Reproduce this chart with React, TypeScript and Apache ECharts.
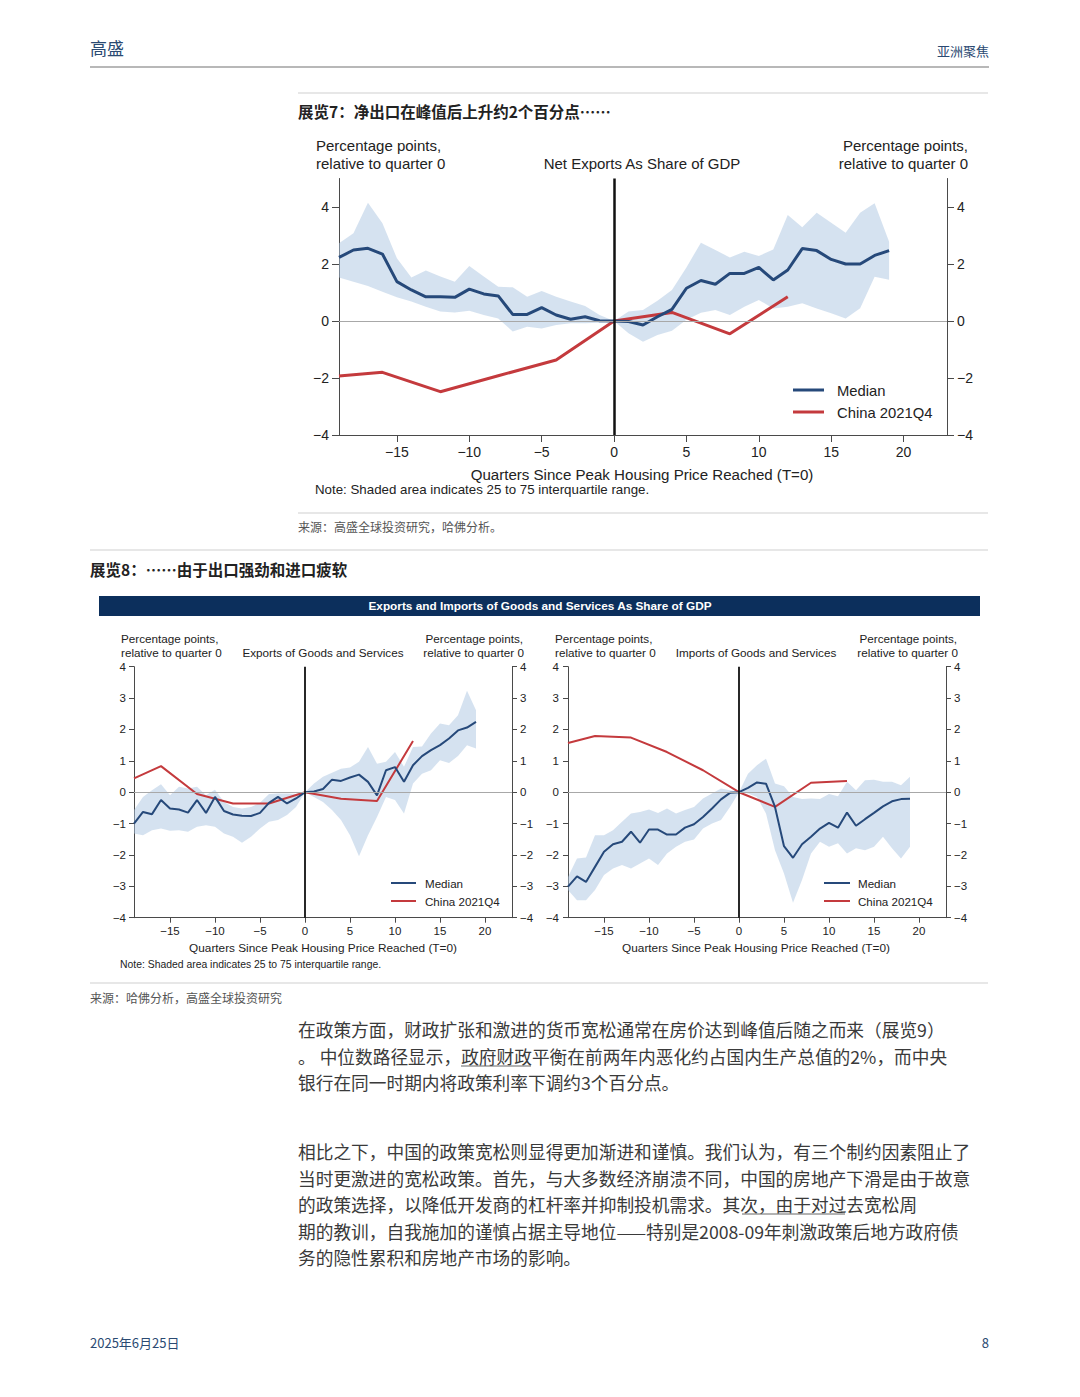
import React, { useEffect, useRef } from "react";
import * as echarts from "echarts";

// ---------- data ----------
const QUARTERS = [-19, -18, -17, -16, -15, -14, -13, -12, -11, -10, -9, -8, -7, -6, -5, -4, -3, -2, -1, 0, 1, 2, 3, 4, 5, 6, 7, 8, 9, 10, 11, 12, 13, 14, 15, 16, 17, 18, 19];
const CHINA_QUARTERS = [-19, -16, -12, -8, -4, 0, 4, 8, 12];
const X_TICKS = [-15, -10, -5, 0, 5, 10, 15, 20];
const Y_TICKS_TOP = [-4, -2, 0, 2, 4];
const Y_TICKS_BOTTOM = [-4, -3, -2, -1, 0, 1, 2, 3, 4];

// Net exports (Exhibit 7)
const NET_MEDIAN = [2.23, 2.49, 2.55, 2.35, 1.38, 1.09, 0.85, 0.85, 0.83, 1.12, 0.95, 0.88, 0.23, 0.23, 0.47, 0.21, 0.06, 0.15, 0.01, 0, -0.02, -0.14, 0.15, 0.41, 1.15, 1.42, 1.29, 1.67, 1.67, 1.88, 1.44, 1.79, 2.54, 2.47, 2.16, 2.0, 2.0, 2.3, 2.47];
const NET_UPPER = [2.73, 3.08, 4.15, 3.43, 2.2, 1.53, 1.77, 1.56, 1.38, 1.93, 1.56, 1.2, 1.18, 0.85, 1.05, 0.85, 0.68, 0.53, 0.21, 0, 0.33, 0.39, 0.71, 1.09, 1.88, 2.75, 2.49, 2.23, 2.43, 2.28, 2.51, 3.72, 3.29, 3.8, 3.45, 3.1, 3.8, 4.13, 2.78];
const NET_LOWER = [1.53, 1.38, 1.23, 1.03, 0.83, 0.68, 0.5, 0.33, 0.3, 0.36, 0.21, 0.09, -0.37, -0.2, -0.26, -0.14, -0.08, -0.08, -0.06, 0, -0.43, -0.73, -0.49, -0.34, 0.04, 0.29, 0.39, 0.21, 0.5, 0.74, 0.44, 0.5, 0.62, 0.44, 0.27, 0.09, 0.45, 1.55, 1.45];
const NET_CHINA = [-1.93, -1.8, -2.48, -1.92, -1.37, 0, 0.3, -0.45, 0.85];

// Exports (Exhibit 8 left)
const EXP_MEDIAN = [-1.0, -0.63, -0.7, -0.25, -0.52, -0.55, -0.65, -0.25, -0.66, -0.15, -0.6, -0.71, -0.75, -0.76, -0.66, -0.34, -0.15, -0.36, -0.2, 0, 0.02, 0.1, 0.4, 0.36, 0.47, 0.56, 0.33, -0.1, 0.7, 0.8, 0.33, 0.86, 1.15, 1.34, 1.5, 1.71, 1.97, 2.06, 2.24];
const EXP_UPPER = [-0.57, -0.15, 0.06, 0.25, -0.1, 0.17, 0.12, 0.17, -0.1, 0.08, -0.31, -0.47, -0.52, -0.47, -0.34, -0.06, -0.04, -0.04, -0.06, 0, 0.28, 0.49, 0.62, 0.75, 0.79, 0.97, 1.44, 0.91, 0.97, 1.28, 0.81, 1.44, 1.46, 1.87, 2.19, 2.13, 2.45, 3.23, 2.61];
const EXP_LOWER = [-1.32, -1.37, -1.21, -1.16, -1.23, -1.21, -1.26, -1.1, -1.05, -1.1, -1.32, -1.42, -1.61, -1.42, -1.16, -0.94, -0.89, -0.73, -0.47, 0, -0.15, -0.31, -0.57, -0.89, -1.37, -2.04, -1.37, -0.79, -0.15, -0.25, -0.68, 0.28, 0.59, 0.7, 1.02, 0.93, 1.15, 1.5, 1.39];
const EXP_CHINA = [0.44, 0.83, -0.06, -0.36, -0.36, 0, -0.21, -0.28, 1.63];

// Imports (Exhibit 8 right)
const IMP_MEDIAN = [-3.01, -2.68, -2.86, -2.38, -1.9, -1.66, -1.58, -1.26, -1.61, -1.19, -1.19, -1.35, -1.35, -1.13, -1.02, -0.79, -0.52, -0.23, -0.02, 0, 0.14, 0.31, 0.27, -0.47, -1.72, -2.09, -1.66, -1.42, -1.16, -0.98, -1.13, -0.65, -1.07, -0.86, -0.66, -0.45, -0.29, -0.22, -0.21];
const IMP_UPPER = [-2.7, -2.11, -2.08, -1.37, -1.37, -1.21, -0.94, -0.68, -0.63, -0.55, -0.66, -0.52, -0.68, -0.57, -0.47, -0.2, -0.04, 0.12, 0.06, 0, 0.59, 0.86, 1.07, 0.28, 0.19, -0.15, -0.22, -0.2, -0.22, -0.06, -0.13, 0.33, 0.06, 0.38, 0.4, 0.33, 0.33, 0.22, 0.49];
const IMP_LOWER = [-3.12, -3.44, -3.44, -3.12, -2.64, -2.43, -2.32, -2.43, -2.27, -2.11, -2.32, -1.95, -1.74, -1.58, -1.51, -1.16, -1.0, -0.89, -0.47, 0, -0.04, -0.15, -0.68, -1.85, -2.59, -3.52, -2.8, -1.95, -1.58, -1.74, -1.63, -1.95, -1.79, -1.85, -1.74, -1.42, -1.79, -2.11, -1.74];
const IMP_CHINA = [1.57, 1.79, 1.74, 1.28, 0.7, 0, -0.47, 0.3, 0.36];

// ---------- style ----------
const NAVY = "#26497a";
const RED = "#c43a3d";
const BAND = "rgba(172,198,226,0.5)";
const HEAD = "#2b4a72";
const LAT = "'Liberation Sans', Arial, sans-serif";
const CJK = "'Noto Sans CJK SC', sans-serif";

const minus = (v: number) => (v < 0 ? "\u2212" + Math.abs(v) : String(v));
const pairs = (xs: number[], ys: number[]) => xs.map((x, i) => [x, ys[i]]);

type Panel = {
  left: number; top: number; width: number; height: number;
  yMin: number; yMax: number; yTicks: number[];
  fs: number; tick: number; lw: number; vw: number;
  ymL: number; ymR: number; xm: number;
  median: number[]; upper: number[]; lower: number[]; china: number[];
};

const PANELS: Panel[] = [
  { left: 339, top: 178.5, width: 608, height: 256.5, yMin: -4, yMax: 5, yTicks: Y_TICKS_TOP, fs: 14, tick: 7, lw: 3, vw: 2.5, ymL: 10, ymR: 10, xm: 10,
    median: NET_MEDIAN, upper: NET_UPPER, lower: NET_LOWER, china: NET_CHINA },
  { left: 134, top: 666.7, width: 378, height: 251, yMin: -4, yMax: 4, yTicks: Y_TICKS_BOTTOM, fs: 11.5, tick: 5, lw: 2, vw: 1.8, ymL: 8, ymR: 8, xm: 7,
    median: EXP_MEDIAN, upper: EXP_UPPER, lower: EXP_LOWER, china: EXP_CHINA },
  { left: 568, top: 666.7, width: 378, height: 251, yMin: -4, yMax: 4, yTicks: Y_TICKS_BOTTOM, fs: 11.5, tick: 5, lw: 2, vw: 1.8, ymL: 9, ymR: 8, xm: 7,
    median: IMP_MEDIAN, upper: IMP_UPPER, lower: IMP_LOWER, china: IMP_CHINA },
];

function txt(text: string, x: number, y: number, size: number, opts: any = {}) {
  const weight = opts.weight || "normal";
  const family = opts.family || LAT;
  return {
    type: "text", x, y, silent: true,
    style: {
      text, fill: opts.color || "#222",
      font: `${weight} ${size}px ${family}`,
      align: opts.align || "left", textAlign: opts.align || "left",
      verticalAlign: "middle", textVerticalAlign: "middle",
    },
  };
}
function hline(x1: number, x2: number, y: number, color: string, w: number) {
  return { type: "line", silent: true, shape: { x1, y1: y, x2, y2: y }, style: { stroke: color, lineWidth: w } };
}

function buildOption() {
  const grid: any[] = [], xAxis: any[] = [], yAxis: any[] = [], series: any[] = [];
  PANELS.forEach((p, i) => {
    grid.push({ left: p.left, top: p.top, width: p.width, height: p.height, containLabel: false });
    const axisLine = { show: true, onZero: false, lineStyle: { color: "#4a4a4a", width: 1 } };
    xAxis.push({
      type: "value", gridIndex: i, min: -19, max: 23,
      axisLine,
      axisTick: { show: true, length: p.tick, customValues: X_TICKS, lineStyle: { color: "#4a4a4a" } },
      axisLabel: { customValues: X_TICKS, formatter: minus, fontSize: p.fs, color: "#222", fontFamily: LAT, margin: p.xm },
      splitLine: { show: false },
    });
    (["left", "right"] as const).forEach((pos) => {
      yAxis.push({
        type: "value", gridIndex: i, position: pos, min: p.yMin, max: p.yMax,
        axisLine,
        axisTick: { show: true, length: p.tick, customValues: p.yTicks, lineStyle: { color: "#4a4a4a" } },
        axisLabel: { customValues: p.yTicks, formatter: minus, fontSize: p.fs, color: "#222", fontFamily: LAT, margin: pos === "left" ? p.ymL : p.ymR },
        splitLine: { show: false },
      });
    });
    const upper = p.upper, lower = p.lower;
    series.push({
      type: "line", xAxisIndex: i, yAxisIndex: 2 * i, data: pairs(CHINA_QUARTERS, p.china),
      symbol: "none", showSymbol: false, lineStyle: { color: RED, width: p.lw }, silent: true,
    });
    series.push({
      type: "custom", xAxisIndex: i, yAxisIndex: 2 * i, data: [[0, 0]], silent: true,
      renderItem: (_params: any, api: any) => {
        const pts: number[][] = [];
        QUARTERS.forEach((q, k) => pts.push(api.coord([q, upper[k]])));
        for (let k = QUARTERS.length - 1; k >= 0; k--) pts.push(api.coord([QUARTERS[k], lower[k]]));
        return { type: "polygon", shape: { points: pts }, style: { fill: BAND, stroke: "none" } };
      },
    });
    series.push({
      type: "line", xAxisIndex: i, yAxisIndex: 2 * i, data: pairs(QUARTERS, p.median),
      symbol: "none", showSymbol: false, lineStyle: { color: NAVY, width: p.lw }, silent: true,
      markLine: {
        silent: true, symbol: "none", label: { show: false },
        data: [
          { yAxis: 0, lineStyle: { color: "#a8a8a8", width: 1, type: "solid" } },
          { xAxis: 0, lineStyle: { color: "#111", width: p.vw, type: "solid" } },
        ],
      },
    });
  });

  const P1 = "在政策方面，财政扩张和激进的货币宽松通常在房价达到峰值后随之而来（展览9）";
  const P2 = "。 中位数路径显示，政府财政平衡在前两年内恶化约占国内生产总值的2%，而中央";
  const P3 = "银行在同一时期内将政策利率下调约3个百分点。";
  const Q1 = "相比之下，中国的政策宽松则显得更加渐进和谨慎。我们认为，有三个制约因素阻止了";
  const Q2 = "当时更激进的宽松政策。首先，与大多数经济崩溃不同，中国的房地产下滑是由于故意";
  const Q3 = "的政策选择，以降低开发商的杠杆率并抑制投机需求。其次，由于对过去宽松周";
  const Q4 = "期的教训，自我施加的谨慎占据主导地位——特别是2008-09年刺激政策后地方政府债";
  const Q5 = "务的隐性累积和房地产市场的影响。";
  const bodyOpts = { family: CJK, color: "#3a3a3a" };
  const BS = 17.7;
  const BF = 11.7;

  const graphic: any[] = [
    // header
    txt("高盛", 90, 47, 17, { family: CJK, color: HEAD }),
    txt("亚洲聚焦", 989, 50, 13, { family: CJK, color: HEAD, align: "right" }),
    hline(90, 989, 67, "#b8b8b8", 2),
    // exhibit 7
    hline(298, 988, 93, "#cfcfcf", 1),
    txt("展览7：净出口在峰值后上升约2个百分点……", 298, 111, 15.5, { family: CJK, weight: "bold", color: "#222" }),
    txt("Percentage points,", 316, 145, 15),
    txt("relative to quarter 0", 316, 163, 15),
    txt("Net Exports As Share of GDP", 642, 163, 15, { align: "center" }),
    txt("Percentage points,", 968, 145, 15, { align: "right" }),
    txt("relative to quarter 0", 968, 163, 15, { align: "right" }),
    hline(793, 824, 390, NAVY, 3),
    txt("Median", 837, 391, 14.8),
    hline(793, 824, 412, RED, 3),
    txt("China 2021Q4", 837, 413, 14.8),
    txt("Quarters Since Peak Housing Price Reached (T=0)", 642, 474, 15.1, { align: "center" }),
    txt("Note: Shaded area indicates 25 to 75 interquartile range.", 315, 489, 13.3),
    hline(298, 988, 513, "#cfcfcf", 1),
    txt("来源：高盛全球投资研究，哈佛分析。", 298, 526, 12, { family: CJK, color: "#555" }),
    hline(90, 988, 550, "#cfcfcf", 1),
    // exhibit 8
    txt("展览8：……由于出口强劲和进口疲软", 90, 569, 15.5, { family: CJK, weight: "bold", color: "#222" }),
    { type: "rect", silent: true, shape: { x: 99, y: 596, width: 881, height: 20 }, style: { fill: "#0c2f5c" } },
    txt("Exports and Imports of Goods and Services As Share of GDP", 540, 606, 11.8, { align: "center", weight: "bold", color: "#ffffff" }),
    // left panel labels
    txt("Percentage points,", 121, 638, BF),
    txt("relative to quarter 0", 121, 652, BF),
    txt("Exports of Goods and Services", 323, 652, BF, { align: "center" }),
    txt("Percentage points,", 523, 638, BF, { align: "right" }),
    txt("relative to quarter 0", 524, 652, BF, { align: "right" }),
    hline(391, 416, 883, NAVY, 2),
    txt("Median", 425, 883, 11.6),
    hline(391, 416, 901, RED, 2),
    txt("China 2021Q4", 425, 901, 11.6),
    txt("Quarters Since Peak Housing Price Reached (T=0)", 323, 948, 11.8, { align: "center" }),
    txt("Note: Shaded area indicates 25 to 75 interquartile range.", 120, 964, 10.4),
    // right panel labels
    txt("Percentage points,", 555, 638, BF),
    txt("relative to quarter 0", 555, 652, BF),
    txt("Imports of Goods and Services", 756, 652, BF, { align: "center" }),
    txt("Percentage points,", 957, 638, BF, { align: "right" }),
    txt("relative to quarter 0", 958, 652, BF, { align: "right" }),
    hline(824, 850, 883, NAVY, 2),
    txt("Median", 858, 883, 11.6),
    hline(824, 850, 901, RED, 2),
    txt("China 2021Q4", 858, 901, 11.6),
    txt("Quarters Since Peak Housing Price Reached (T=0)", 756, 948, 11.8, { align: "center" }),
    hline(90, 988, 983, "#cfcfcf", 1),
    txt("来源：哈佛分析，高盛全球投资研究", 90, 997, 12, { family: CJK, color: "#555" }),
    // body text
    txt(P1, 298, 1029, BS, bodyOpts),
    txt(P2, 298, 1056, BS, bodyOpts),
    hline(461, 531, 1066, "#666", 1),
    txt(P3, 298, 1082, BS, bodyOpts),
    txt(Q1, 298, 1151, BS, bodyOpts),
    txt(Q2, 298, 1178, BS, bodyOpts),
    txt(Q3, 298, 1204, BS, bodyOpts),
    hline(742, 845, 1214, "#666", 1),
    txt(Q4, 298, 1231, BS, bodyOpts),
    txt(Q5, 298, 1257, BS, bodyOpts),
    // footer
    txt("2025年6月25日", 90, 1342, 13, { family: CJK, color: HEAD }),
    txt("8", 989, 1342, 13, { family: CJK, color: HEAD, align: "right" }),
  ];

  return { animation: false, backgroundColor: "#ffffff", grid, xAxis, yAxis, series, graphic };
}

export default function App() {
  const ref = useRef<HTMLDivElement>(null);
  useEffect(() => {
    if (!ref.current) return;
    const chart = echarts.init(ref.current, undefined, { renderer: "svg" });
    chart.setOption(buildOption() as any);
    return () => chart.dispose();
  }, []);
  return (
    <div
      ref={ref}
      style={{ position: "absolute", left: 0, top: 0, width: 1080, height: 1397, background: "#fff" }}
    />
  );
}
